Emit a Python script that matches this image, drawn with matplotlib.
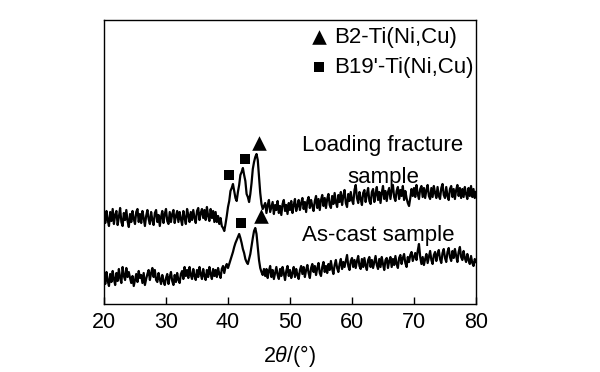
import numpy as np
import matplotlib
matplotlib.use('Agg')
import matplotlib.pyplot as plt

plt.rcParams['font.family'] = ['Liberation Sans', 'DejaVu Sans']
plt.rcParams['mathtext.fontset'] = 'custom'
plt.rcParams['mathtext.rm'] = 'Liberation Sans'
plt.rcParams['mathtext.it'] = 'Liberation Sans:italic'

# 2theta from 20 to 80 deg, step 0.2
two_theta = np.round(np.arange(20, 80.01, 0.2), 1)

# loading fracture sample (upper curve), intensity in arb. units
loading = [
    90, 81, 93, 84, 78, 92, 83, 95, 80, 89,
    93, 79, 87, 96, 82, 78, 91, 84, 94, 83,
    77, 90, 82, 93, 85, 80, 92, 95, 82, 90,
    81, 93, 86, 78, 88, 94, 85, 80, 92, 84,
    79, 91, 94, 82, 89, 78, 87, 93, 81, 90,
    95, 83, 80, 92, 82, 90, 94, 81, 88, 93,
    82, 92, 85, 79, 93, 86, 80, 95, 89, 82,
    92, 84, 94, 86, 81, 93, 96, 84, 91, 95,
    86, 94, 84, 97, 88, 83, 95, 86, 93, 82,
    92, 82, 88, 80, 86, 78, 76, 73, 80, 88,
    97, 103, 113, 116, 120, 113, 106, 103, 112, 119,
    129, 132, 136, 129, 123, 110, 107, 102, 110, 121,
    135, 142, 147, 150, 144, 127, 111, 100, 95, 98,
    101, 91, 99, 104, 92, 97, 102, 90, 99, 94,
    103, 91, 98, 89, 100, 104, 93, 99, 90, 101,
    94, 103, 91, 99, 105, 93, 98, 104, 94, 101,
    106, 95, 102, 92, 103, 107, 96, 104, 98, 93,
    103, 108, 96, 105, 94, 104, 109, 98, 106, 96,
    105, 110, 99, 96, 108, 100, 111, 102, 97, 109,
    102, 112, 99, 108, 114, 101, 97, 110, 103, 112,
    104, 100, 114, 119, 106, 101, 112, 105, 99, 111,
    114, 102, 110, 116, 103, 100, 112, 115, 102, 110,
    117, 104, 112, 101, 111, 118, 105, 113, 103, 112,
    116, 105, 114, 119, 107, 103, 113, 117, 105, 114,
    108, 118, 104, 113, 106, 101, 98, 106, 115, 108,
    116, 107, 119, 110, 105, 115, 118, 107, 116, 106,
    114, 119, 108, 105, 116, 107, 118, 111, 106, 117,
    108, 105, 116, 120, 109, 106, 117, 108, 104, 115,
    118, 107, 115, 105, 114, 119, 108, 116, 106, 115,
    107, 117, 110, 105, 116, 108, 118, 107, 115, 106,
    112,
]

# as-cast sample (lower curve)
ascast = [
    29, 20, 32, 23, 18, 30, 22, 33, 25, 19,
    31, 23, 35, 26, 21, 37, 28, 24, 36, 27,
    32, 26, 21, 28, 18, 24, 30, 22, 33, 26,
    29, 21, 31, 19, 25, 30, 34, 24, 31, 36,
    27, 34, 24, 22, 31, 25, 20, 29, 23, 19,
    26, 30, 20, 27, 32, 23, 19, 29, 22, 31,
    24, 21, 30, 33, 25, 37, 28, 34, 26, 37,
    29, 25, 35, 28, 24, 34, 27, 37, 30, 25,
    35, 28, 24, 34, 27, 37, 30, 25, 35, 28,
    34, 27, 36, 30, 26, 35, 38, 31, 37, 40,
    36, 40, 44, 48, 52, 57, 61, 64, 67, 70,
    66, 61, 55, 51, 45, 42, 40, 45, 50, 58,
    66, 73, 76, 70, 57, 44, 36, 32, 29, 35,
    28, 35, 26, 33, 38, 27, 34, 25, 31, 37,
    29, 25, 35, 28, 37, 31, 24, 33, 38, 28,
    34, 26, 31, 37, 27, 35, 29, 25, 34, 38,
    30, 37, 27, 34, 39, 31, 26, 36, 40, 32,
    38, 29, 36, 41, 31, 28, 37, 42, 32, 38,
    31, 40, 34, 43, 35, 30, 39, 44, 36, 32,
    40, 45, 35, 42, 37, 43, 49, 38, 34, 43,
    46, 37, 44, 36, 43, 48, 38, 35, 45, 37,
    46, 38, 34, 44, 47, 37, 44, 36, 42, 48,
    39, 35, 45, 37, 47, 40, 34, 44, 46, 36,
    43, 47, 37, 45, 39, 48, 40, 36, 46, 49,
    40, 46, 50, 41, 37, 47, 42, 49, 52, 43,
    47, 51, 44, 53, 60, 47, 40, 47, 39, 45,
    50, 41, 47, 53, 44, 40, 49, 52, 43, 50,
    54, 45, 41, 51, 55, 46, 42, 52, 56, 47,
    43, 53, 46, 55, 48, 42, 52, 57, 47, 44,
    53, 46, 42, 50, 44, 40, 48, 41, 38, 45,
    42,
]

# phase markers
b2_x = [45.0, 45.3]
b2_y = [161, 88]
b19_x = [40.2, 42.7, 42.1]
b19_y = [129, 145, 81]

fig = plt.figure(figsize=(6, 3.72), dpi=100)
ax = fig.add_axes([104/600, 68/372, 372/600, 284/372])

ax.plot(two_theta, loading, color='black', lw=1.6)
ax.plot(two_theta, ascast, color='black', lw=1.6)

ax.scatter(b2_x, b2_y, marker='^', s=110, c='black', linewidths=0, label='B2-Ti(Ni,Cu)')
ax.scatter(b19_x, b19_y, marker='s', s=55, c='black', linewidths=0, label="B19'-Ti(Ni,Cu)")

ax.text(65.0, 159, 'Loading fracture', fontsize=16, ha='center', va='center')
ax.text(65.0, 126, 'sample', fontsize=16, ha='center', va='center')
ax.text(64.2, 68, 'As-cast sample', fontsize=16, ha='center', va='center')

ax.legend(loc='upper left', bbox_to_anchor=(0.548, 0.975), frameon=False,
          fontsize=16, handlelength=1.0, handletextpad=0.2, labelspacing=0.4,
          borderpad=0, borderaxespad=0, scatterpoints=1)

ax.set_xlim(20, 80)
ax.set_ylim(0, 284)
ax.set_xticks([20, 30, 40, 50, 60, 70, 80])
ax.set_yticks([])
ax.tick_params(axis='x', direction='in', length=5, width=1, labelsize=15.5, pad=6, top=False)
for sp in ax.spines.values():
    sp.set_linewidth(1.0)
ax.set_xlabel(r'2$\it{\theta}$/(°)', fontsize=15.5, labelpad=7)

plt.savefig('out.png', dpi=100)
